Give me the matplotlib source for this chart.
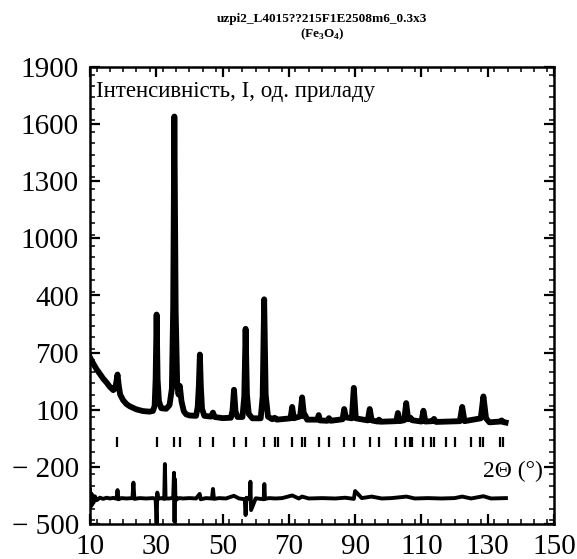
import matplotlib
matplotlib.use("Agg")
import matplotlib.pyplot as plt
from matplotlib.ticker import MultipleLocator

plt.rcParams["font.family"] = ["Liberation Serif", "DejaVu Serif"]
plt.rcParams["mathtext.fontset"] = "custom"
plt.rcParams["mathtext.rm"] = "Liberation Serif"
plt.rcParams["mathtext.bf"] = "Liberation Serif:bold"

# observed pattern (2theta, counts)
obs_2theta = [
    10.0, 10.5, 11.0, 12.0, 13.0, 14.0, 15.0, 16.0, 17.0, 17.5, 17.9, 18.3, 18.7, 19.1,
    20.0, 21.0, 22.0, 24.0, 26.0, 28.0, 29.0, 29.5, 29.8, 30.1, 30.4, 30.8, 31.5, 33.0,
    34.0, 34.7, 35.1, 35.45, 35.85, 36.3, 36.7, 37.1, 37.6, 38.3, 39.0, 40.0, 42.0, 42.5,
    42.85, 43.15, 43.45, 43.8, 44.5, 46.5, 47.1, 47.6, 50.0, 52.5, 53.0, 53.45, 53.9, 54.5,
    56.0, 56.55, 56.95, 57.35, 57.9, 59.0, 61.5, 62.1, 62.55, 63.0, 63.7, 65.0, 65.7, 66.4,
    70.5, 71.0, 71.5, 73.4, 74.0, 74.6, 75.0, 75.5, 78.6, 79.0, 79.4, 81.6, 82.1, 82.6,
    86.2, 86.7, 87.2, 89.0, 89.6, 90.2, 93.8, 94.4, 95.0, 96.8, 97.2, 97.6, 102.4, 102.9,
    103.4, 104.8, 105.4, 106.0, 106.7, 107.2, 110.0, 110.6, 111.2, 113.2, 113.8, 114.4,
    121.6, 122.3, 123.0, 127.9, 128.7, 129.5, 130.5, 133.8, 134.2, 134.6, 135.4,
]
obs_counts = [
    375, 358, 342, 312, 288, 263, 243, 220, 203, 210, 240, 285, 225, 180,
    150, 130, 118, 102, 93, 90, 94, 120, 260, 600, 260, 145, 108, 105,
    125, 210, 640, 1640, 620, 240, 180, 225, 145, 92, 76, 70, 68, 115,
    230, 390, 220, 105, 68, 64, 85, 62, 56, 58, 95, 205, 92, 62,
    62, 170, 525, 180, 78, 55, 55, 170, 680, 180, 64, 50, 58, 48,
    55, 115, 55, 65, 165, 65, 70, 48, 48, 72, 44, 42, 56, 42,
    50, 104, 60, 55, 215, 55, 44, 104, 44, 38, 48, 37, 40, 83,
    40, 45, 135, 50, 58, 45, 38, 95, 38, 40, 52, 36,
    40, 115, 40, 55, 170, 55, 34, 38, 44, 36, 33,
]

# Fe3O4 reflection positions
bragg_2theta = [
    18.27, 30.10, 35.42, 37.05, 43.05, 47.10, 53.40, 56.94, 62.52, 65.70, 66.70,
    71.00, 74.00, 75.00, 79.00, 82.00, 86.70, 89.60, 94.40, 97.10, 102.20, 104.90,
    106.60, 107.20, 110.40, 113.00, 113.90, 117.50, 120.20, 124.90, 127.70, 128.70,
    133.80, 134.70,
]
bragg_level = -68

# obs - calc difference
diff_2theta = [
    10.0, 10.2, 10.4, 10.6, 10.8, 11.0, 11.5, 12.0, 13.0, 14.0, 15.0, 16.0, 17.0, 18.0,
    18.3, 18.6, 19.5, 21.0, 22.8, 23.1, 23.4, 25.0, 27.0, 29.0, 29.8, 30.1, 30.3, 30.6,
    31.5, 32.4, 32.6, 32.8, 34.0, 35.1, 35.35, 35.5, 35.65, 35.8, 36.0, 36.4, 37.0, 38.0,
    40.0, 42.0, 43.1, 43.4, 45.0, 46.8, 47.1, 47.4, 49.0, 51.0, 53.4, 55.0, 56.7, 56.95,
    57.2, 58.2, 58.4, 58.6, 60.0, 62.4, 62.6, 62.8, 64.0, 66.0, 68.0, 71.0, 73.0, 74.0,
    76.0, 80.0, 84.0, 87.0, 89.6, 90.0, 92.0, 95.0, 98.0, 101.0, 105.5, 108.0, 112.0,
    116.0, 120.0, 122.3, 125.0, 128.7, 131.0, 135.5,
]
diff_counts = [
    -320, -410, -340, -400, -350, -390, -355, -375, -362, -368, -362, -366, -363, -367,
    -322, -370, -364, -366, -364, -283, -368, -364, -366, -364, -368, -495, -335, -368,
    -364, -368, -185, -366, -366, -362, -231, -488, -265, -378, -362, -368, -364, -366,
    -364, -366, -342, -370, -364, -366, -316, -368, -364, -366, -352, -366, -370, -453,
    -362, -370, -278, -427, -365, -370, -290, -368, -364, -366, -364, -350, -366, -356,
    -366, -364, -366, -362, -368, -327, -364, -356, -366, -364, -356, -366, -364,
    -366, -364, -356, -366, -354, -366, -364,
]

y_ticks = [-500, -200, 100, 400, 700, 1000, 1300, 1600, 1900]
y_tick_labels = ["\u2212 500", "\u2212 200", "100", "700", "400", "1000", "1300", "1600", "1900"]
x_ticks = [10, 30, 50, 70, 90, 110, 130, 150]

fig = plt.figure(figsize=(5.77, 5.59), dpi=100)
ax = fig.add_axes([90 / 577, 35 / 559, 464 / 577, 457 / 559])

# observed points drawn as a dense band, calculated curve thin inside it
ax.plot(obs_2theta, obs_counts, color="black", lw=4.2, solid_joinstyle="round")
ax.plot(obs_2theta, obs_counts, color="black", lw=0.8)
ax.plot(bragg_2theta, [bragg_level] * len(bragg_2theta), ls="none", marker="|",
        color="black", markersize=7, markeredgewidth=1.6)
ax.plot(diff_2theta, diff_counts, color="black", lw=2.8)

ax.set_xlim(10, 150)
ax.set_ylim(-500, 1900)
ax.set_xticks(x_ticks)
ax.set_yticks(y_ticks)
ax.set_yticklabels(y_tick_labels)
ax.xaxis.set_minor_locator(MultipleLocator(4))
ax.yaxis.set_minor_locator(MultipleLocator(60))
ax.tick_params(which="both", direction="in", top=True, right=True, labelsize=21)
ax.tick_params(which="major", length=7, width=1.6)
ax.tick_params(which="minor", length=3.5, width=1.1)
ax.tick_params(axis="x", pad=7)
ax.tick_params(axis="y", pad=8)
for sp in ax.spines.values():
    sp.set_linewidth(1.8)

ax.text(11.8, 1770, "Інтенсивність, І, од. приладу", fontsize=16.5, va="center", ha="left")
ax.text(146.5, -222, "2\u0398 (\u00b0)", fontsize=17, va="center", ha="right",
        bbox=dict(facecolor="white", edgecolor="none", pad=0.5))

fig.text(0.558, 0.966, "uzpi2_L4015??215F1E2508m6_0.3x3", fontsize=9.5,
         fontweight="bold", ha="center", va="center")
fig.text(0.558, 0.939, r"(Fe$_\mathbf{3}$O$_\mathbf{4}$)", fontsize=9.5,
         fontweight="bold", ha="center", va="center")

fig.savefig("out.png", dpi=100)
